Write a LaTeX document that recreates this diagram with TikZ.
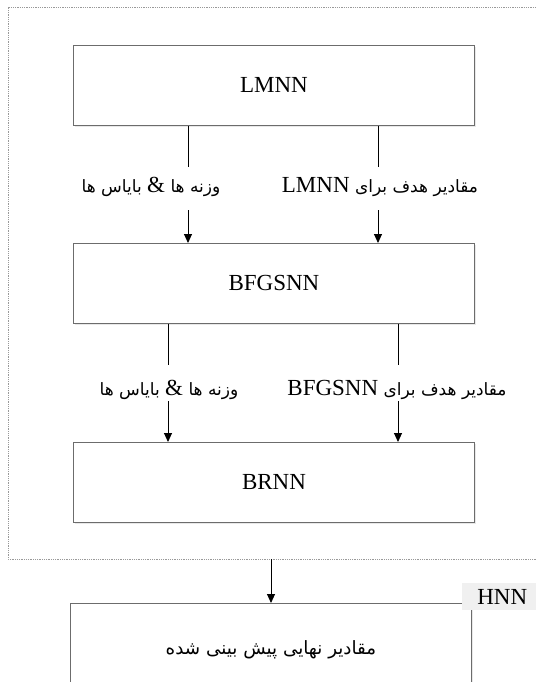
\documentclass[tikz,border=0pt]{standalone}
\usepackage{fontspec}
\setmainfont{Liberation Serif}
\newfontfamily\fa[Script=Arabic]{DejaVu Sans}
\TeXXeTstate=1
\usetikzlibrary{arrows.meta,shadows,patterns}
\begin{document}
\begin{tikzpicture}[x=1pt,y=-1pt,
  box/.style={draw=gray!85!black, fill=white, line width=0.9pt, inner sep=0pt,
    drop shadow={opacity=0.18,shadow xshift=1.5pt,shadow yshift=-1.5pt},
    font=\fontsize{23}{27}\selectfont},
  conn/.style={line width=0.9pt, -{Triangle[length=9pt,width=8pt]}},
  wire/.style={line width=0.9pt},
  lbl/.style={inner sep=0pt, font=\fontsize{17}{20}\selectfont},
  frame/.style={draw=gray!80, line width=0.7pt, dash pattern=on 1pt off 0.8pt}]
\useasboundingbox (0,0) rectangle (535,682);
% container
\draw[frame] (545,7) -- (8,7) -- (8,559) -- (545,559);
% boxes
\node[box, minimum width=401pt, minimum height=80pt, anchor=north west] (lm) at (73,45) {LMNN};
\node[box, minimum width=401pt, minimum height=80pt, anchor=north west] (bf) at (73,243) {BFGSNN};
\node[box, minimum width=401pt, minimum height=80pt, anchor=north west] (br) at (73,442) {BRNN};
\node[box, minimum width=401pt, minimum height=110pt, anchor=north west] (fin) at (70,603) {};
\node[lbl, font=\fontsize{18.3}{21}\selectfont] (fintxt) at (271,650) {\fa\beginR مقادیر نهایی پیش بینی شده\endR};
% HNN tag
\node[fill=gray!12, inner sep=0pt, minimum width=80pt, minimum height=27pt, anchor=north west,
  font=\fontsize{23}{27}\selectfont, text depth=0pt] (hnn) at (462,583) {HNN};
% labels row 1
\node[lbl] (l1) at (151,187) {\fa\beginR وزنه ها {\rmfamily\fontsize{23}{27}\selectfont\&} بایاس ها\endR};
\node[lbl] (r1) at (380,187) {\fa\beginR مقادیر هدف برای \beginL{\rmfamily\fontsize{23}{27}\selectfont LMNN}\endL\endR};
% labels row 2
\node[lbl] (l2) at (169,390) {\fa\beginR وزنه ها {\rmfamily\fontsize{23}{27}\selectfont\&} بایاس ها\endR};
\node[lbl] (r2) at (397,390) {\fa\beginR مقادیر هدف برای \beginL{\rmfamily\fontsize{23}{27}\selectfont BFGSNN}\endL\endR};
% break coordinates
\coordinate (a1t) at (188,167); \coordinate (a1b) at (188,210);
\coordinate (b1t) at (378,167); \coordinate (b1b) at (378,210);
\coordinate (a2t) at (168,365); \coordinate (a2b) at (168,401);
\coordinate (b2t) at (398,365); \coordinate (b2b) at (398,401);
\coordinate (cb) at (271,559);
% connectors
\draw[wire] (lm.south -| a1t) -- (a1t);
\draw[conn] (a1b) -- (bf.north -| a1b);
\draw[wire] (lm.south -| b1t) -- (b1t);
\draw[conn] (b1b) -- (bf.north -| b1b);
\draw[wire] (bf.south -| a2t) -- (a2t);
\draw[conn] (a2b) -- (br.north -| a2b);
\draw[wire] (bf.south -| b2t) -- (b2t);
\draw[conn] (b2b) -- (br.north -| b2b);
\draw[conn] (cb) -- (fin.north -| cb);
\end{tikzpicture}
\end{document}
